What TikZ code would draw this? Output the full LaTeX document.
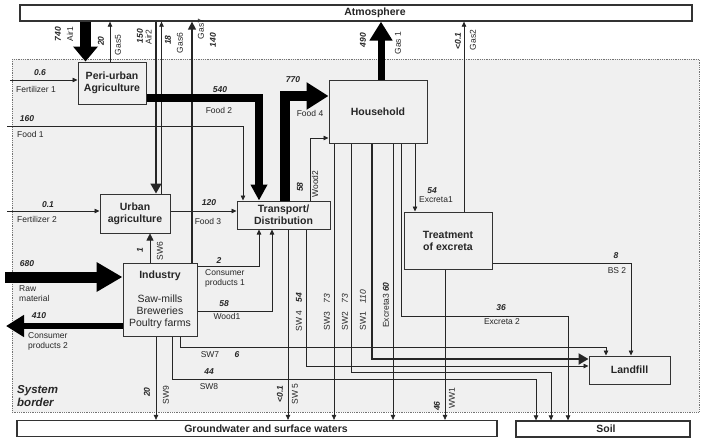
\documentclass[tikz,border=0pt]{standalone}
\usepackage{fontspec}
\setmainfont{Liberation Sans}
\usetikzlibrary{arrows.meta}
\begin{document}
\begin{tikzpicture}[x=1pt,y=-1pt,
  box/.style={draw=black!80, line width=1pt, fill=gray!12, font=\fontsize{10.5}{12}\selectfont\bfseries, text=black!85, align=center, inner sep=0pt},
  sink/.style={draw=black!80, line width=1.3pt, fill=white, inner sep=0pt},
  sinktext/.style={font=\fontsize{10.5}{12}\selectfont\bfseries, text=black!85, inner sep=0pt},
  flow/.style={draw=black!85, line width=0.75pt, -{Triangle[length=5pt,width=4.5pt]}},
  lab/.style={font=\fontsize{8.5}{10}\selectfont, text=black!85, inner sep=0pt},
  num/.style={font=\fontsize{8.5}{10}\selectfont\bfseries\itshape, text=black!85, inner sep=0pt},
  vlab/.style={lab, rotate=90},
  vnum/.style={num, rotate=90}
]
\fill[white] (0,0) rectangle (708,445);
\useasboundingbox (0,0) rectangle (708,445);
\draw[black!55, densely dotted, line width=0.8pt, fill=gray!12] (12,59) rectangle (699,412);

% sinks
\node[sink, minimum width=672pt, minimum height=16pt] (atm) at (356,13) {};
\node[sinktext] (atmt) at (375,13) {Atmosphere};
\node[sink, minimum width=480pt, minimum height=16pt] (gw) at (257,428.5) {};
\node[sinktext] (gwt) at (266,428.5) {Groundwater and surface waters};
\node[sink, minimum width=174pt, minimum height=16pt] (soil) at (603,429) {};
\node[sinktext] (soilt) at (606,429) {Soil};

% processes
\node[box, minimum width=68pt, minimum height=42pt] (peri) at (112,83) {Peri-urban\\Agriculture};
\node[box, minimum width=98pt, minimum height=63pt] (hh) at (378,111.5) {Household};
\node[box, minimum width=70pt, minimum height=39pt] (urb) at (135,213.5) {Urban\\agriculture};
\node[box, minimum width=93pt, minimum height=28pt] (tr) at (283.5,215) {Transport/\\Distribution};
\node[box, minimum width=88pt, minimum height=57pt] (tre) at (448,240.5) {Treatment\\of excreta};
\node[box, minimum width=74pt, minimum height=73pt] (ind) at (160,299.5) {Industry\\[12pt]{\mdseries Saw-mills}\\{\mdseries Breweries}\\{\mdseries Poultry farms}};
\node[box, minimum width=81pt, minimum height=28pt] (lf) at (629.5,370) {Landfill};

% free ends
\coordinate (f1) at (10,80);
\coordinate (f1b) at (7,126);
\coordinate (f2) at (7,211);
\coordinate (raw) at (5,277);
\coordinate (cp2) at (6,326);

% connectors
\draw[line width=11pt, -{Triangle[length=15pt,width=24pt]}] (atm.south -| 85.5,0) -- (peri.north -| 85.5,0);
\draw[flow] (peri.north -| 110,0) -- (atm.south -| 110,0);
\draw[flow, line width=1.6pt, -{Triangle[length=10pt,width=11pt]}] (atm.south -| 156,0) -- (urb.north -| 156,0);
\draw[flow] (urb.north -| 161.5,0) -- (atm.south -| 161.5,0);
\draw[flow, line width=1.4pt, -{Triangle[length=8pt,width=8pt]}] (ind.north -| 192,0) -- (atm.south -| 192,0);
\draw[line width=7pt, -{Triangle[length=19pt,width=22pt]}] (hh.north -| 381,0) -- (atm.south -| 381,0);
\draw[flow] (tre.north -| 464,0) -- (atm.south -| 464,0);
\draw[flow] (f1) -- (peri.west |- f1);
\draw[flow] (f1b) -- (243,126) -- (tr.north -| 243,0);
\draw[line width=7.5pt, line join=miter, -{Triangle[length=16pt,width=16pt]}] (peri.east |- 0,98) -- (259,98) -- (tr.north -| 259,0);
\draw[line width=10pt, line join=miter, -{Triangle[length=22pt,width=26pt]}] (tr.north -| 285,0) -- (285,96) -- (hh.west |- 0,96);
\draw[flow] (tr.north -| 310,0) -- (310,138) -- (hh.west |- 0,138);
\draw[flow] (f2) -- (urb.west |- f2);
\draw[flow] (urb.east |- 0,211) -- (tr.west |- 0,211);
\draw[flow, -{Triangle[length=7pt,width=7pt]}] (ind.north -| 150,0) -- (urb.south -| 150,0);
\draw[line width=11pt, -{Triangle[length=26pt,width=28pt]}] (raw) -- (ind.west |- raw);
\draw[line width=6pt, -{Triangle[length=18pt,width=21pt]}] (ind.west |- cp2) -- (cp2);
\draw[flow] (ind.east |- 0,266) -- (259,266) -- (tr.south -| 259,0);
\draw[flow] (ind.east |- 0,311) -- (272,311) -- (tr.south -| 272,0);
\draw[flow] (tr.south -| 288,0) -- (gw.north -| 288,0);
\draw[flow] (tr.south -| 306,0) -- (306,366) -- (lf.west |- 0,366);
\draw[flow] (hh.south -| 334,0) -- (gw.north -| 334,0);
\draw[flow] (hh.south -| 351,0) -- (351,372) -- (551,372) -- (soil.north -| 551,0);
\draw[flow, line width=2.2pt, -{Triangle[length=10pt,width=11pt]}] (hh.south -| 372,0) -- (372,359) -- (lf.west |- 0,359);
\draw[flow] (hh.south -| 393,0) -- (gw.north -| 393,0);
\draw[flow] (hh.south -| 401,0) -- (401,316) -- (568,316) -- (soil.north -| 568,0);
\draw[flow] (hh.south -| 415,0) -- (tre.north -| 415,0);
\draw[flow] (tre.south -| 445,0) -- (gw.north -| 445,0);
\draw[flow] (tre.east |- 0,263) -- (631,263) -- (lf.north -| 631,0);
\draw[flow] (ind.south -| 156,0) -- (gw.north -| 156,0);
\draw[flow] (ind.south -| 172,0) -- (172,379) -- (536,379) -- (soil.north -| 536,0);
\draw[flow] (ind.south -| 180,0) -- (180,347) -- (606,347) -- (lf.north -| 606,0);

% vertical labels (top)
\node[vnum] (n740) at (58,34) {740};
\node[vlab] (tAir1) at (70,34) {Air1};
\node[vnum] (n20a) at (101,41) {20};
\node[vlab] (tGas5) at (118,45) {Gas5};
\node[vnum] (n150) at (140,36) {150};
\node[vlab] (tAir2) at (148.5,37) {Air2};
\node[vnum] (n18) at (168,40) {18};
\node[vlab] (tGas6) at (180,43) {Gas6};
\node[vlab] (tGas7) at (201,29) {Gas7};
\node[vnum] (n140) at (213,40) {140};
\node[vnum] (n490) at (363,40) {490};
\node[vlab] (tGas1) at (398,43) {Gas 1};
\node[vnum] (n01a) at (458,41) {<0.1};
\node[vlab] (tGas2) at (473,40) {Gas2};
% vertical labels (middle)
\node[vnum] (n58b) at (300,187) {58};
\node[vlab] (tWood2) at (315,184) {Wood2};
\node[vnum] (n1) at (140,250) {1};
\node[vlab] (tSW6) at (160,251) {SW6};
\node[vlab] (tSW4) at (299,312) {SW 4\quad\textbf{\textit{54}}};
\node[vlab] (tSW3) at (327,312) {SW3\quad\textit{73}};
\node[vlab] (tSW2) at (345,312) {SW2\quad\textit{73}};
\node[vlab] (tSW1) at (363,310) {SW1\quad\textit{110}};
\node[vlab] (tEx3) at (386,305) {Excreta3\ \textbf{\textit{60}}};
% vertical labels (bottom)
\node[vnum] (n01b) at (280,394) {<0.1};
\node[vlab] (tSW5) at (295,394) {SW 5};
\node[vnum] (n46) at (437,406) {46};
\node[vlab] (tWW1) at (452,398) {WW1};
\node[vnum] (n20b) at (147,392) {20};
\node[vlab] (tSW9) at (166,395) {SW9};

% horizontal labels
\node[num] (n06) at (40,73) {0.6};
\node[lab, anchor=west] (tF1) at (16,89) {Fertilizer 1};
\node[num] (n160) at (27,119) {160};
\node[lab, anchor=west] (tFood1) at (17,134) {Food 1};
\node[num] (n540) at (220,90) {540};
\node[lab] (tFood2) at (219,110) {Food 2};
\node[num] (n770) at (293,80) {770};
\node[lab] (tFood4) at (310,113) {Food 4};
\node[num] (n01c) at (48,205) {0.1};
\node[lab, anchor=west] (tF2) at (17,219) {Fertilizer 2};
\node[num] (n120) at (209,203) {120};
\node[lab] (tFood3) at (208,221) {Food 3};
\node[num] (n54) at (432,191) {54};
\node[lab] (tEx1) at (436,200) {Excreta1};
\node[num] (n680) at (27,264) {680};
\node[lab, anchor=west, align=left] (tRaw) at (19,294) {Raw\\material};
\node[num] (n410) at (39,316) {410};
\node[lab, anchor=west, align=left] (tCP2) at (28,341.5) {Consumer\\products 2};
\node[num] (n2) at (219,261) {2};
\node[lab, anchor=west, align=left] (tCP1) at (205,278.5) {Consumer\\products 1};
\node[num] (n58a) at (224,304) {58};
\node[lab] (tWood1) at (227,316) {Wood1};
\node[num] (n8) at (616,256) {8};
\node[lab] (tBS2) at (617,271) {BS 2};
\node[num] (n36) at (501,308) {36};
\node[lab] (tEx2) at (502,322) {Excreta 2};
\node[lab] (tSW7) at (210,355) {SW7};
\node[num] (n6) at (237,355) {6};
\node[num] (n44) at (209,372) {44};
\node[lab] (tSW8) at (209,387) {SW8};
\node[anchor=west, align=left, inner sep=0pt, text=black!85, font=\fontsize{11.5}{12.5}\selectfont\bfseries\itshape] (tSys) at (17,396) {System\\border};
\end{tikzpicture}
\end{document}
